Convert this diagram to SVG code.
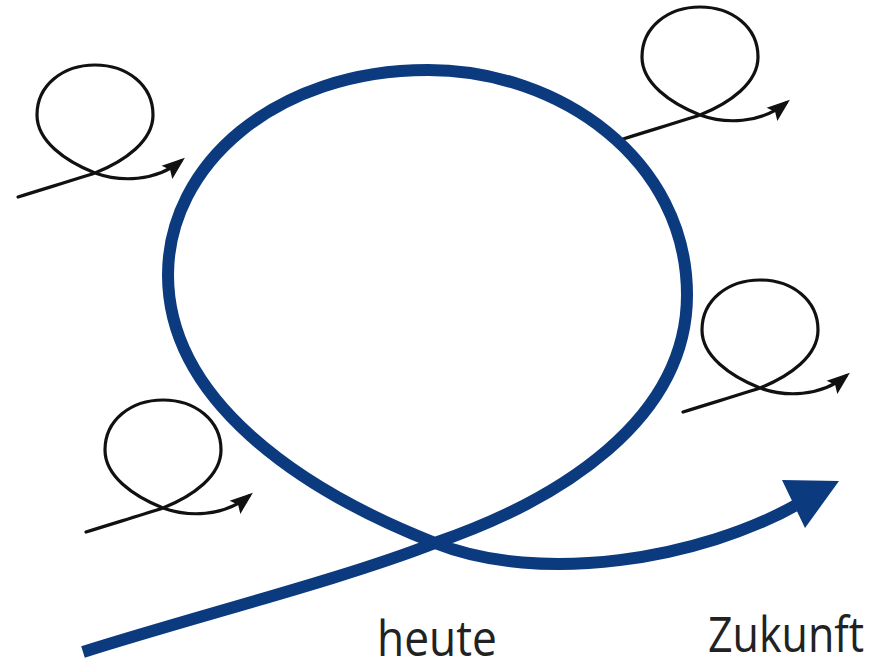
<svg xmlns="http://www.w3.org/2000/svg" width="871" height="662" viewBox="0 0 871 662">
  <defs>
    <style>
      .loop { fill: none; stroke: #111; stroke-width: 3.2; stroke-linecap: round; stroke-linejoin: round; }
      .main { fill: none; stroke: #0c3a7e; stroke-width: 12; stroke-linecap: butt; }
      .label { font-family: "Open Sans", "Noto Sans", sans-serif; font-size: 43px; fill: #222; }
    </style>
    <marker id="tip" markerUnits="userSpaceOnUse" viewBox="-20 -10 26 20" refX="0" refY="0" markerWidth="26" markerHeight="20" orient="auto">
      <path d="M5,0 L-18,-8.5 L-14,0 L-18,8.5 z" fill="#111"/>
    </marker>
    <!-- small swirl: crossing point at the origin -->
    <path id="swirl" class="loop" marker-end="url(#tip)"
          d="M -77 24 C -45 14 -15 5 0 0 C 30 -12 58 -32 58 -58 C 58 -88 32 -108 0 -108 C -32 -108 -58 -88 -58 -58 C -58 -32 -30 -12 0 0 C 25 9 60 9 86 -12"/>
  </defs>

  <rect width="871" height="662" fill="#ffffff"/>

  <!-- small swirls around the big loop -->
  <g id="swirl-top-left"><use href="#swirl" transform="translate(95,173)"/></g>
  <g id="swirl-top-right"><use href="#swirl" transform="translate(700,115)"/></g>
  <g id="swirl-right"><use href="#swirl" transform="translate(760,388)"/></g>
  <g id="swirl-bottom-left"><use href="#swirl" transform="translate(163,508)"/></g>

  <!-- big loop from today into the future -->
  <g id="connectors">
    <path class="main" d="M 83 652 C 200 615 340 580 435 543 C 560 500 687 420 687 295 C 687 160 560 70 428 70 C 275 70 168 165 168 275 C 168 400 300 490 435 543 C 540 585 700 560 800 503"/>
    <polygon points="782,480 839,481 805,528" fill="#0c3a7e"/>
  </g>

  <g id="label-heute"><text class="label" transform="translate(377,656) scale(1.03,1.16)">heute</text></g>
  <g id="label-zukunft"><text class="label" transform="translate(708,652) scale(1,1.16)">Zukunft</text></g>
</svg>
